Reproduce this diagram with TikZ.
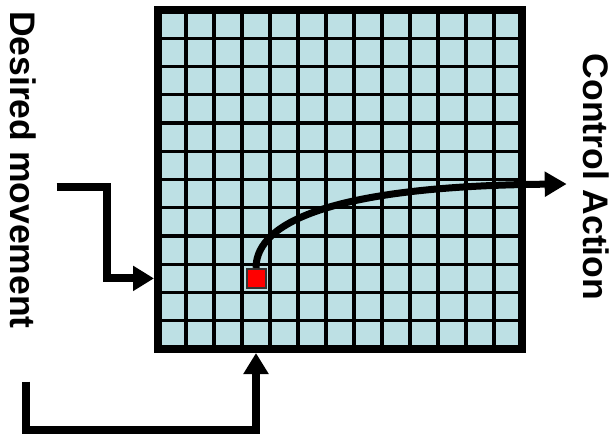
\documentclass[tikz,border=0pt]{standalone}
\usepackage{fontspec}
\setmainfont{Liberation Sans}
\usetikzlibrary{arrows.meta,calc}
\definecolor{cellblue}{RGB}{189,224,228}
\definecolor{boxred}{RGB}{255,0,0}
\tikzset{
  gridbox/.style={draw=black, fill=cellblue, line width=8pt, minimum width=364pt, minimum height=339pt, inner sep=0pt},
  gridline/.style={line width=3.4pt, black},
  marker/.style={draw=black!80, fill=boxred, line width=2pt, minimum size=19pt, inner sep=0pt},
  flowarrow/.style={line width=8pt, line join=miter, -{Triangle[length=21pt,width=24pt]}},
  curvearrow/.style={line width=7pt, -{Triangle[length=22pt,width=24pt]}},
  sidelabel/.style={rotate=-90, anchor=base west, inner sep=0pt, font=\fontsize{35.5}{40}\selectfont\bfseries}
}
\begin{document}
\begin{tikzpicture}[x=1pt,y=-1pt]
\useasboundingbox (0,0) rectangle (611,436);
% grid
\node[gridbox] (grid) at (340,179.5) {};
\foreach \i in {1,...,12} {
  \draw[gridline] (158+28*\i,10) -- (158+28*\i,349);
}
\foreach \j in {1,...,11} {
  \draw[gridline] (158,10+28.25*\j) -- (522,10+28.25*\j);
}
\draw[line width=8pt] (158,10) rectangle (522,349);
% marker
\node[marker] (red) at (256,278.4) {};
% labels
\node[sidelabel] (dm) at (10.5,11) {Desired movement};
\node[sidelabel] (ca) at (583.5,53.5) {Control Action};
% connectors
\coordinate (dmin) at (56.7,186.7);
\coordinate (fbin) at (25.8,381.7);
\coordinate (caout) at (566.7,184);
\draw[flowarrow] (dmin) -- ++(50.6,0) |- (grid.west |- red.center);
\draw[flowarrow] (fbin) -- ++(0,48.3) -| (grid.south -| red.center);
\draw[curvearrow] (red.north) .. controls (256,220) and (340,186) .. (caout);
\end{tikzpicture}
\end{document}
